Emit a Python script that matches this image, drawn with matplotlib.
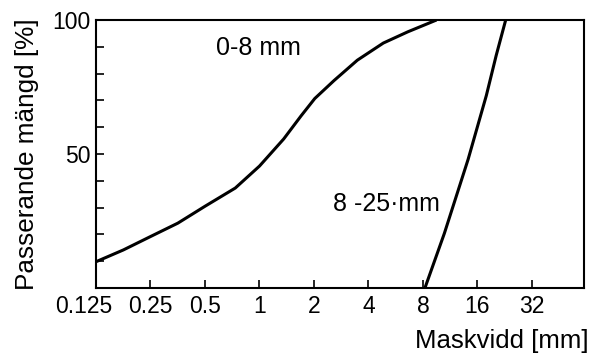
import numpy as np
import matplotlib
matplotlib.use("Agg")
import matplotlib.pyplot as plt
from matplotlib.transforms import ScaledTranslation

plt.rcParams['font.family'] = ['Liberation Sans', 'DejaVu Sans']

# sieve sizes (mm) and passing amount (%)
fine_x = [0.125, 0.177, 0.25, 0.354, 0.5, 0.735, 1.0, 1.36, 1.70, 2.02, 2.58, 3.47, 4.83, 6.6, 9.5]
fine_y = [9.8, 14.2, 19.2, 24.2, 30.5, 37.3, 45.5, 55.6, 64.3, 70.7, 77.4, 85.0, 91.4, 95.6, 100]
coarse_x = [8.2, 10.5, 14.2, 17.9, 20.3, 22.9]
coarse_y = [0, 20.4, 48.0, 71.8, 86.8, 100]

xticks = [0.125, 0.25, 0.5, 1, 2, 4, 8, 16, 32]
xticklabels = ["0.125", "0.25", "0.5", "1", "2", "4", "8", "16", "32"]
yticks = [50, 100]

fig = plt.figure(figsize=(5.99, 3.55), dpi=100)
ax = fig.add_axes([96 / 599, 1 - 288 / 355, 488 / 599, 268 / 355])

ax.plot(fine_x, fine_y, color="black", lw=2.2, solid_capstyle="butt")
ax.plot(coarse_x, coarse_y, color="black", lw=2.2, solid_capstyle="butt")

ax.set_xscale("log", base=2)
ax.set_xlim(0.125, 62)
ax.set_ylim(0, 100)

ax.set_xticks(xticks)
ax.set_xticklabels(xticklabels)
ax.xaxis.set_minor_locator(plt.NullLocator())
ax.set_yticks(yticks)
ax.set_yticks(np.arange(0, 101, 10), minor=True)

ax.tick_params(axis="both", which="both", direction="in", length=6, width=1.2,
               labelsize=16.5, top=False, right=False)
ax.tick_params(axis="x", pad=5)
ax.tick_params(axis="y", pad=4)

# first x label sits a bit left of its tick in the original
lbl = ax.get_xticklabels()[0]
lbl.set_transform(lbl.get_transform() + ScaledTranslation(-12 / 100, 0, fig.dpi_scale_trans))

for s in ax.spines.values():
    s.set_linewidth(1.5)

ax.text(0.99, 89.5, "0-8 mm", fontsize=18, ha="center", va="center")
ax.text(2.55, 31.2, "8 -25·mm", fontsize=18, ha="left", va="center")

fig.text(589 / 599, 1 - 341 / 355, "Maskvidd [mm]", fontsize=18.5, ha="right", va="center")
fig.text(27 / 599, 1 - 154 / 355, "Passerande mängd [%]", fontsize=18.8,
         rotation=90, ha="center", va="center")

fig.savefig("out.png", dpi=100)
